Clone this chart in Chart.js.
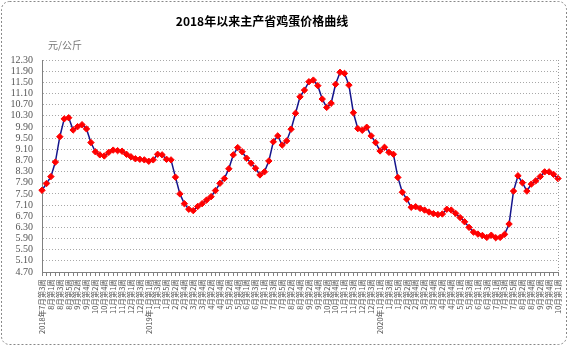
<!DOCTYPE html>
<html>
<head>
<meta charset="utf-8">
<script src="https://cdn.jsdelivr.net/npm/chart.js@4"></script>
<style>
  html, body { margin: 0; padding: 0; background: #fff; }
</style>
</head>
<body>
<canvas id="eggChart" width="570" height="348"></canvas>
<script>
// week labels, one per data point
const weeks2018 = ['2018年7月第3周','7月第4周','8月第1周','8月第2周','8月第3周','8月第4周','8月第5周',
  '9月第1周','9月第2周','9月第3周','9月第4周','10月第1周','10月第2周','10月第3周','10月第4周','10月第5周',
  '11月第1周','11月第2周','11月第3周','11月第4周','12月第1周','12月第2周','12月第3周','12月第4周'];
const weeks2019 = ['2019年1月第1周','1月第2周','1月第3周','1月第4周','1月第5周','2月第1周','2月第2周','2月第3周','2月第4周',
  '3月第1周','3月第2周','3月第3周','3月第4周','4月第1周','4月第2周','4月第3周','4月第4周',
  '5月第1周','5月第2周','5月第3周','5月第4周','5月第5周','6月第1周','6月第2周','6月第3周','6月第4周',
  '7月第1周','7月第2周','7月第3周','7月第4周','7月第5周','8月第1周','8月第2周','8月第3周','8月第4周',
  '9月第1周','9月第2周','9月第3周','9月第4周','10月第1周','10月第2周','10月第3周','10月第4周','10月第5周',
  '11月第1周','11月第2周','11月第3周','11月第4周','12月第1周','12月第2周','12月第3周','12月第4周'];
const weeks2020 = ['2020年1月第1周','1月第2周','1月第3周','1月第4周','1月第5周','2月第1周','2月第2周','2月第3周','2月第4周',
  '3月第1周','3月第2周','3月第3周','3月第4周','4月第1周','4月第2周','4月第3周','4月第4周','4月第5周',
  '5月第1周','5月第2周','5月第3周','5月第4周','6月第1周','6月第2周','6月第3周','6月第4周',
  '7月第1周','7月第2周','7月第3周','7月第4周','7月第5周','8月第1周','8月第2周','8月第3周','8月第4周',
  '9月第1周','9月第2周','9月第3周','9月第4周','9月第5周','10月第1周'];

// 元/公斤
const price2018 = [7.63, 7.87, 8.12, 8.64, 9.55, 10.19, 10.23, 9.79, 9.91, 9.98, 9.83, 9.34,
  9.01, 8.90, 8.86, 8.99, 9.07, 9.05, 9.03, 8.92, 8.83, 8.76, 8.74, 8.72];
const price2019 = [8.67, 8.72, 8.92, 8.90, 8.74, 8.72, 8.10, 7.50, 7.15, 6.95, 6.90, 7.05, 7.15,
  7.28, 7.40, 7.62, 7.88, 8.05, 8.40, 8.90, 9.16, 9.01, 8.78, 8.60, 8.42, 8.18,
  8.29, 8.68, 9.37, 9.58, 9.25, 9.40, 9.82, 10.39, 10.98, 11.22, 11.52, 11.58, 11.38,
  10.90, 10.60, 10.75, 11.43, 11.86, 11.82, 11.40, 10.41, 9.84, 9.78, 9.89, 9.58, 9.34];
const price2020 = [9.04, 9.17, 8.99, 8.92, 8.09, 7.56, 7.31, 7.02, 7.04, 6.98, 6.92, 6.85, 6.79,
  6.76, 6.78, 6.95, 6.92, 6.80, 6.65, 6.50, 6.30, 6.13, 6.06, 6.01, 5.94, 6.02, 5.93,
  5.94, 6.05, 6.42, 7.60, 8.15, 7.90, 7.60, 7.85, 7.97, 8.12, 8.29, 8.29, 8.20, 8.05];

const yTicks = [4.70, 5.10, 5.50, 5.90, 6.30, 6.70, 7.10, 7.50, 7.90, 8.30, 8.70,
  9.10, 9.50, 9.90, 10.30, 10.70, 11.10, 11.50, 11.90, 12.30];

const labels = weeks2018.concat(weeks2019, weeks2020);
const prices = price2018.concat(price2019, price2020);

// frame, title, unit and right dotted edge
const decorPlugin = {
  id: 'decor',
  beforeDraw(chart) {
    const c = chart.ctx;
    c.save();
    c.fillStyle = '#fff';
    c.fillRect(0, 0, chart.width, chart.height);
    c.strokeStyle = '#888';
    c.lineWidth = 1;
    c.setLineDash([2, 2]);
    c.beginPath();
    c.roundRect(1.5, 1.5, 565, 343, 8);
    c.stroke();
    c.setLineDash([]);
    c.fillStyle = '#000';
    c.font = "bold 12px 'Noto Sans CJK SC'";
    c.textAlign = 'center';
    c.textBaseline = 'middle';
    c.fillText('2018年以来主产省鸡蛋价格曲线', 262, 21);
    c.fillStyle = '#777';
    c.font = "10px 'Noto Sans CJK SC'";
    c.textAlign = 'left';
    c.fillText('元/公斤', 48, 45);
    c.restore();
  },
  afterDatasetsDraw(chart) {
    const a = chart.chartArea;
    const c = chart.ctx;
    c.save();
    c.strokeStyle = '#999';
    c.setLineDash([1, 2]);
    c.beginPath();
    c.moveTo(Math.round(a.right) + 0.5, a.top);
    c.lineTo(Math.round(a.right) + 0.5, a.bottom);
    c.stroke();
    c.restore();
  }
};

const ctx = document.getElementById('eggChart').getContext('2d');
new Chart(ctx, {
  type: 'line',
  data: {
    labels: labels,
    datasets: [{
      data: prices,
      borderColor: '#14148c',
      borderWidth: 1.5,
      tension: 0,
      pointStyle: 'rectRot',
      pointRadius: 3.2,
      pointBackgroundColor: '#ff0000',
      pointBorderColor: '#ff0000',
      pointBorderWidth: 1
    }]
  },
  options: {
    responsive: false,
    animation: false,
    layout: { padding: { left: 0, right: 12, top: 60, bottom: 4 } },
    plugins: {
      legend: { display: false },
      tooltip: { enabled: false }
    },
    scales: {
      x: {
        offset: false,
        grid: { drawOnChartArea: false, drawTicks: true, tickLength: 4, color: '#808080' },
        border: { color: '#808080' },
        ticks: {
          autoSkip: false,
          minRotation: 90,
          maxRotation: 90,
          padding: 3,
          color: '#555',
          font: { family: "'Noto Sans CJK SC'", size: 7.5 },
          callback: function(value, index) {
            return index % 2 === 0 ? labels[index] : '';
          }
        },
        afterFit: function(scale) { scale.height = 72; }
      },
      y: {
        min: 4.7,
        max: 12.3,
        grid: { color: '#a8a8a8', drawTicks: false },
        border: { color: '#808080', dash: [1, 2] },
        afterBuildTicks: function(scale) {
          scale.ticks = yTicks.map(v => ({ value: v }));
        },
        ticks: {
          autoSkip: false,
          padding: 9,
          color: '#555',
          font: { family: "'Liberation Serif'", size: 10 },
          callback: function(value) { return value.toFixed(2); }
        },
        afterFit: function(scale) { scale.width = 42; }
      }
    }
  },
  plugins: [decorPlugin]
});
</script>
</body>
</html>
